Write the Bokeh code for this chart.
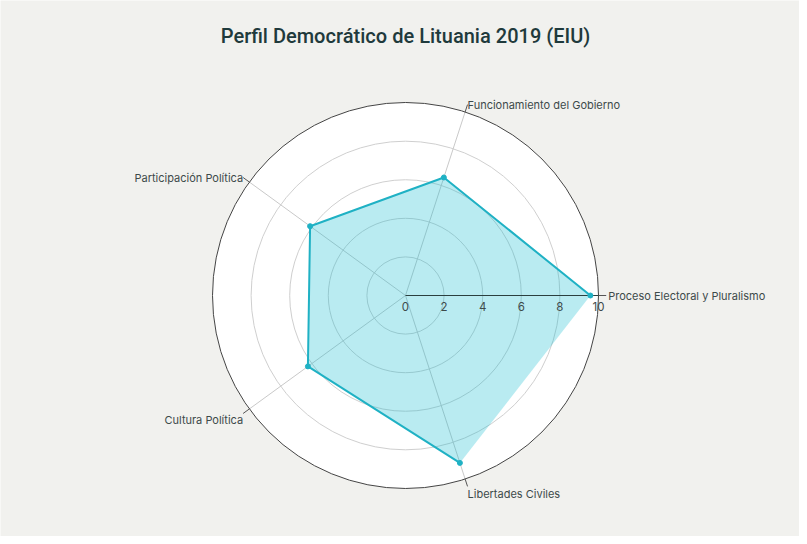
import numpy as np
from bokeh.plotting import figure
from bokeh.models import Range1d, ColumnDataSource
from bokeh.core.properties import value
from bokeh.embed import file_html
from bokeh.resources import INLINE

# ---- data ----
categories = ["Proceso Electoral y Pluralismo", "Funcionamiento del Gobierno",
              "Participación Política", "Cultura Política", "Libertades Civiles"]
scores = [9.58, 6.43, 6.11, 6.25, 9.12]
angles_deg = [0, 72, 144, 216, 288]
tick_values = [0, 2, 4, 6, 8, 10]
tick_labels = ["0", "2", "4", "6", "8", "10"]
grid_values = [2, 4, 6, 8]
r_max = 10
title_text = "Perfil Democrático de Lituania 2019 (EIU)"

W, H = 799, 536
s = 19.3          # px per unit
cx, cy = 405, 295 # centre in figure pixels

FONT = "Inter"
BG = "#f1f1ee"

p = figure(width=W, height=H, output_backend="svg", toolbar_location=None,
           x_range=Range1d(-cx / s, (W - cx) / s),
           y_range=Range1d(-(H - cy) / s, cy / s),
           min_border=0)
p.axis.visible = False
p.grid.visible = False
p.outline_line_color = None
p.background_fill_color = BG
p.border_fill_color = BG

# white disc
p.circle(x=[0], y=[0], radius=r_max, fill_color="white", line_color=None)

# grid circles
p.circle(x=[0] * len(grid_values), y=[0] * len(grid_values), radius=grid_values,
         fill_color=None, line_color="#cfcfcf", line_width=1)

th = np.radians(angles_deg)
# spokes
p.segment(x0=[0] * len(th), y0=[0] * len(th), x1=r_max * np.cos(th), y1=r_max * np.sin(th),
          line_color="#c9c9c9", line_width=1)
# outside ticks
r_tick = 10.4
p.segment(x0=r_max * np.cos(th), y0=r_max * np.sin(th), x1=r_tick * np.cos(th), y1=r_tick * np.sin(th),
          line_color="#555555", line_width=1)

# data polygon
vals = np.array(scores)
xs = vals * np.cos(th)
ys = vals * np.sin(th)
p.patch(x=list(xs), y=list(ys), fill_color="#17becf", fill_alpha=0.3, line_color=None)

# outer circle
p.circle(x=[0], y=[0], radius=r_max, fill_color=None, line_color="#444444", line_width=1)

# radial axis line
p.segment(x0=[0], y0=[0], x1=[r_max], y1=[0], line_color="#2a3f3f", line_width=1.2)

# outline (not closed) and markers
p.line(x=list(xs), y=list(ys), line_color="#1fb1c4", line_width=2)
p.scatter(x=list(xs), y=list(ys), size=5, fill_color="#1fb1c4", line_color="#1fb1c4")

# radial tick labels
p.text(x=tick_values, y=[0] * len(tick_values), text=tick_labels,
       text_font=value(FONT), text_font_size="11.5px", text_color="#3d4a4a",
       text_align="center", text_baseline="top", y_offset=6)

# category labels
aligns = ["left", "left", "right", "right", "left"]
baselines = ["middle", "alphabetic", "middle", "top", "top"]
xoffs = [2, 0, 0, 0, 0]
yoffs = [0, 0, 0, 0, 1]
src = ColumnDataSource(dict(x=r_tick * np.cos(th), y=r_tick * np.sin(th), t=categories,
                            a=aligns, b=baselines, xo=xoffs, yo=yoffs))
p.text(x="x", y="y", text="t", source=src, text_align="a", text_baseline="b",
       x_offset="xo", y_offset="yo",
       text_font=value(FONT), text_font_size="11px", text_color="#3d4a4a")

# title
p.text(x=[0], y=[(cy - 35) / s], text=[title_text],
       text_font=value("Roboto Medium"), text_font_size="20px",
       text_color="#1f3a3c", text_align="center", text_baseline="middle")

open("out.html", "w").write(file_html(p, INLINE))
